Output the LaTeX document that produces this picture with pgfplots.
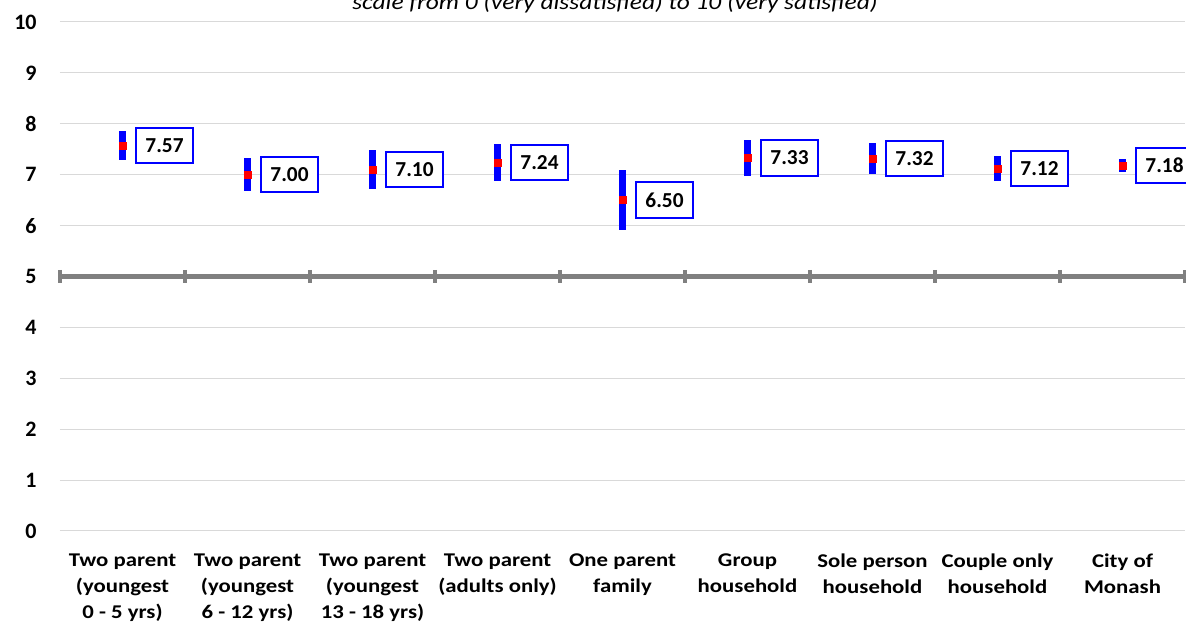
\documentclass[border=0pt]{standalone}
\usepackage{pgfplots}
\pgfplotsset{compat=1.18}
\usepackage{pgfplotstable}
\usepackage{fontspec}
\setmainfont{Carlito}
\newfontfamily\labelfont{Carlito}[FakeStretch=1.17]
\usetikzlibrary{calc}
\definecolor{fivegray}{HTML}{808080}
\definecolor{gridgray}{HTML}{D9D9D9}

\pgfplotstableread{
x y err
1 7.57 0.28
2 7.00 0.33
3 7.10 0.38
4 7.24 0.355
5 6.50 0.59
6 7.33 0.36
7 7.32 0.31
8 7.12 0.24
9 7.18 0.12
}\datatable

\pgfplotstableread{
x y
0.5 5
1.5 5
2.5 5
3.5 5
4.5 5
5.5 5
6.5 5
7.5 5
8.5 5
9.5 5
}\fiveline

\begin{document}
\begin{tikzpicture}
\begin{axis}[name=ax, scale only axis, width=843.75pt, height=381.75pt,
  xmin=0.5, xmax=9.5, ymin=0, ymax=10, clip=false,
  axis line style={draw=none}, major tick length=0,
  ytick={0,...,10}, ymajorgrids, grid style={color=gridgray, line width=0.75pt},
  xtick={1,...,9},
  xticklabels={{Two parent\\(youngest\\0 - 5 yrs)},{Two parent\\(youngest\\6 - 12 yrs)},{Two parent\\(youngest\\13 - 18 yrs)},{Two parent\\(adults only)},{One parent\\family},{Group\\household},{Sole person\\household},{Couple only\\household},{City of\\Monash}},
  xticklabel style={align=center, font=\labelfont\fontsize{14.6}{19.5}\selectfont\bfseries, anchor=north, yshift=-13.5pt},
  yticklabel style={font=\fontsize{16.5}{18}\selectfont\bfseries, xshift=-14pt},
  /pgf/number format/assume math mode=true,
]
\addplot[color=fivegray, line width=4pt, mark=|, mark size=5pt, mark options={line width=2.5pt}] table[x=x,y=y] {\fiveline};
\addplot[only marks, mark=square*, mark size=2.6pt, color=red,
  error bars/.cd, y dir=both, y explicit, error bar style={line width=5pt, color=blue}, error mark=none]
  table[x=x, y=y, y error=err] {\datatable};
\addplot[only marks, mark=square*, mark size=2.6pt, color=red,
  point meta=y,
  nodes near coords={\pgfmathprintnumber[fixed, fixed zerofill, precision=2]{\pgfplotspointmeta}},
  nodes near coords style={anchor=west, xshift=9.4pt, draw=blue, line width=1.5pt, fill=white, text=black,
    minimum width=42.75pt, minimum height=26.7pt, inner sep=2pt, font=\fontsize{16}{18}\selectfont\bfseries}]
  table[x=x, y=y] {\datatable};
\node[font=\labelfont\fontsize{16.3}{20}\selectfont\itshape, anchor=base] at (axis cs:4.94,10.236) {scale from 0 (very dissatisfied) to 10 (very satisfied)};
\end{axis}
\pgfresetboundingbox
\path[use as bounding box] ($(ax.south west)+(-45pt,-71.25pt)$) rectangle ($(ax.north east)+(0.75pt,16.5pt)$);
\end{tikzpicture}
\end{document}
